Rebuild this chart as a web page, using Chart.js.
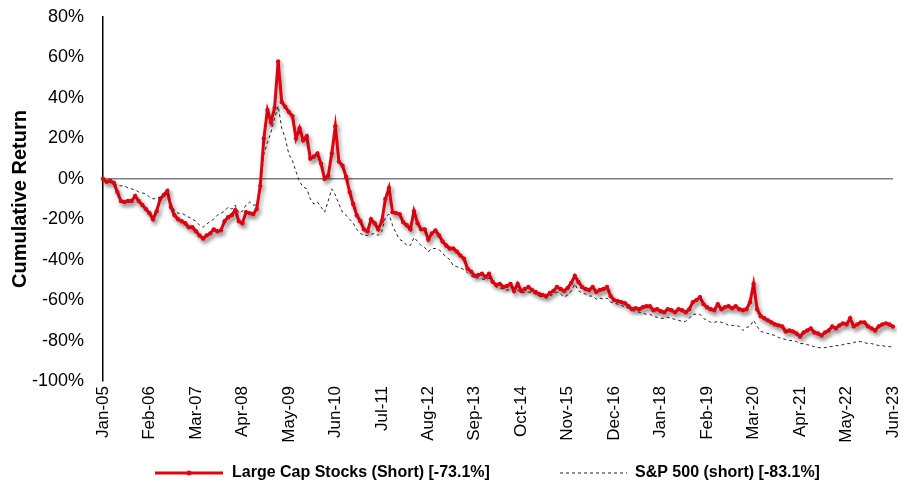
<!DOCTYPE html>
<html>
<head>
<meta charset="utf-8">
<script src="https://cdn.jsdelivr.net/npm/chart.js@4"></script>
<style>
body{ margin:0; background:#fff; }
#wrap{ width:912px; height:483px; position:relative; }
</style>
</head>
<body>
<div id="wrap"><canvas id="returnChart"></canvas></div>
<script>

const monthNames = ["Jan","Feb","Mar","Apr","May","Jun","Jul","Aug","Sep","Oct","Nov","Dec"];
const firstYear = 2005;
const monthCount = 222;

const tickLabels = [
    "Jan-05","Feb-06","Mar-07","Apr-08","May-09","Jun-10",
    "Jul-11","Aug-12","Sep-13","Oct-14","Nov-15","Dec-16",
    "Jan-18","Feb-19","Mar-20","Apr-21","May-22","Jun-23"
];

const largeCapShort = [
    0, -1.5, -1, -2, -6.5, -11, -11.5, -11, -11, -8.5,
    -11, -13, -15, -17, -20, -16, -10, -8, -6, -14,
    -18, -20, -21, -22, -24, -24, -26, -28, -29.5, -28,
    -27, -25, -26, -25.5, -21, -19, -18, -15.5, -21, -22,
    -16.5, -17, -17.5, -15, -3.5, 20, 34, 28, 35, 58,
    38, 35.5, 33, 31, 20, 25, 19, 21, 10, 11,
    12.5, 7.5, 0, 1.5, 12.5, 26, 8.5, 6.5, 1, -6.5,
    -12.5, -18, -21, -25, -26, -20, -22, -25, -21, -10,
    -4.5, -16.5, -17, -17.5, -21.5, -23, -25, -16, -22, -25,
    -25, -30, -27, -25.5, -28, -31, -33, -34.5, -34.5, -36,
    -38, -39.5, -44.5, -46, -48, -47.5, -47, -48.5, -47, -51,
    -52.5, -52, -53.5, -53, -52, -55.5, -52, -55.5, -54.5, -53.5,
    -55, -56, -57, -57.5, -58, -56.5, -55.5, -53.5, -54.5, -55.5,
    -54, -51.5, -48, -51, -53.5, -54.5, -55, -53.5, -56, -55,
    -54.5, -53.5, -58, -60, -60.5, -61, -61.5, -63, -64.5, -64,
    -64.5, -63.5, -63, -63, -65, -64.5, -65.5, -66, -64.5, -65,
    -66, -64.5, -65, -66, -64.5, -61, -60, -58.5, -62, -63.5,
    -64.5, -65, -62, -64.5, -63.5, -63, -64, -63, -64.5, -65,
    -64.5, -61, -52, -64.5, -68, -69, -70, -71, -72, -72.5,
    -73, -75.5, -75, -75.5, -76.5, -78, -76, -75, -74, -76,
    -76.5, -77.5, -76, -75, -73, -74, -72.5, -71.5, -72, -69,
    -73, -72, -71, -71, -73, -74, -75, -73, -72, -71.5,
    -72, -73.1
];

const sp500Short = [
    0, -1, -2, -2.5, -3, -3.5, -3.5, -4.5, -5, -5.5,
    -6.5, -7, -7.5, -9, -10, -9.5, -9, -7, -6, -12,
    -16, -17, -17, -18, -19, -20, -21, -23, -24, -22.5,
    -21, -20, -18, -17, -16, -14, -15, -13, -17, -16,
    -13, -11.5, -13, -13, -4, 12, 18, 23, 30, 36,
    25, 20, 12, 9, 3.5, -1.5, -4, -5, -10, -12.5,
    -11.5, -14, -16.5, -11, -5, -8, -12.5, -16.5, -18, -20,
    -22, -25, -27, -28, -28, -27.5, -27, -28, -26, -19,
    -17.5, -23, -27, -30, -31, -33, -33, -29, -31, -33,
    -34, -36, -34.5, -34.5, -35, -37, -38.5, -40, -43, -43.5,
    -44, -45, -46.5, -48, -49, -49, -49.5, -50, -49, -52,
    -53.5, -54, -54.5, -55, -55, -56, -55, -56.5, -56, -56,
    -56.5, -57, -58, -58.5, -59, -58, -57, -56, -57, -58.5,
    -57.5, -55.5, -52, -55.5, -56.5, -57, -58, -58, -59.5, -59,
    -59.5, -59, -61, -61.5, -62, -62.5, -63.5, -64, -65, -65.5,
    -66, -66.5, -67, -67, -68, -68.5, -69, -69, -68.5, -69,
    -69.5, -70, -70.5, -70.5, -69, -67, -67, -67, -69, -70,
    -71, -71, -70.5, -71, -71.5, -72.5, -72.5, -72.5, -73, -75,
    -73.5, -73, -70, -73, -75.5, -76, -76.5, -77, -77.5, -78.5,
    -79, -79.5, -80, -80, -80.5, -81.5, -81.5, -82, -82.5, -83,
    -83.5, -83.5, -83.5, -83, -83, -82.5, -82.5, -82, -81.5, -81.5,
    -81, -80.5, -80.5, -81, -81.5, -81.5, -82, -82.5, -82.5, -83,
    -83, -83.1
];

const seriesNames = [
    "Large Cap Stocks (Short) [-73.1%]",
    "S&P 500 (short) [-83.1%]"
];

let months = [];
for(let i = 0; i < monthCount; i++){
    let yy = (firstYear + Math.floor(i / 12)) % 100;
    months.push(monthNames[i % 12] + "-" + (yy < 10 ? "0" + yy : "" + yy));
}

const shadowPlugin = {
    id: "shadowPlugin",
    beforeDatasetDraw(chart, args){
        let ctx = chart.ctx;
        ctx.save();
        if(args.index === 0){
            ctx.shadowColor = "rgba(0,0,0,0.35)";
            ctx.shadowBlur = 4;
            ctx.shadowOffsetX = 2;
            ctx.shadowOffsetY = 3;
        }
    },
    afterDatasetDraw(chart){
        chart.ctx.restore();
    }
};

const legendPlugin = {
    id: "legendPlugin",
    afterDraw(chart){
        let ctx = chart.ctx;
        let ds = chart.data.datasets;
        let y = 473;
        let items = [
            { lineFrom: 155, lineTo: 223, textX: 232 },
            { lineFrom: 560, lineTo: 627, textX: 635 }
        ];

        ctx.save();
        items.forEach((item, i) => {
            ctx.beginPath();
            ctx.strokeStyle = ds[i].borderColor;
            ctx.lineWidth = ds[i].borderWidth;
            ctx.setLineDash(ds[i].borderDash || []);
            ctx.moveTo(item.lineFrom, y);
            ctx.lineTo(item.lineTo, y);
            ctx.stroke();
            ctx.setLineDash([]);

            if(ds[i].pointRadius > 0){
                ctx.beginPath();
                ctx.fillStyle = ds[i].pointBackgroundColor;
                ctx.arc((item.lineFrom + item.lineTo) / 2, y, 2.5, 0, Math.PI * 2);
                ctx.fill();
            }

            ctx.fillStyle = "#000";
            ctx.font = "bold 16px 'Liberation Sans', Arial, sans-serif";
            ctx.textBaseline = "middle";
            ctx.textAlign = "left";
            ctx.fillText(ds[i].label, item.textX, y);
        });
        ctx.restore();
    }
};

const ctx = document.getElementById("returnChart");

new Chart(ctx, {
    type: "line",
    data: {
        labels: months,
        datasets: [
            {
                label: seriesNames[0],
                data: largeCapShort,
                borderColor: "#e3000f",
                borderWidth: 3,
                pointRadius: 2.2,
                pointBackgroundColor: "#e3000f",
                pointBorderWidth: 0,
                tension: 0
            },
            {
                label: seriesNames[1],
                data: sp500Short,
                borderColor: "#222222",
                borderWidth: 1,
                borderDash: [3, 3],
                pointRadius: 0,
                tension: 0
            }
        ]
    },
    options: {
        responsive: true,
        maintainAspectRatio: false,
        animation: false,
        layout: {
            autoPadding: false,
            padding: { top: 17, right: 19, bottom: 30, left: 0 }
        },
        plugins: {
            legend: { display: false },
            tooltip: { enabled: false }
        },
        scales: {
            x: {
                offset: false,
                grid: { display: false },
                border: { display: false },
                afterFit: function(scale){
                    scale.height = 72;
                },
                ticks: {
                    autoSkip: false,
                    maxRotation: 90,
                    minRotation: 90,
                    padding: -3,
                    color: "#000",
                    font: { family: "'Liberation Sans', Arial, sans-serif", size: 17 },
                    callback: function(value, index){
                        let lab = months[index];
                        return tickLabels.includes(lab) ? lab : null;
                    }
                }
            },
            y: {
                min: -100,
                max: 80,
                afterFit: function(scale){
                    scale.width = 103;
                    scale.paddingTop = 0;
                    scale.paddingBottom = 0;
                },
                border: { display: true, color: "#000", width: 1.5 },
                grid: {
                    drawTicks: false,
                    lineWidth: 1.5,
                    color: function(c){
                        return c.tick && c.tick.value === 0 ? "#808080" : "rgba(0,0,0,0)";
                    }
                },
                ticks: {
                    stepSize: 20,
                    padding: 19,
                    color: "#000",
                    font: { family: "'Liberation Sans', Arial, sans-serif", size: 18 },
                    callback: function(v){
                        return v + "%";
                    }
                },
                title: {
                    display: true,
                    text: "Cumulative Return",
                    color: "#000",
                    padding: { top: 8, bottom: 0 },
                    font: { family: "'Liberation Sans', Arial, sans-serif", size: 20, weight: "bold" }
                }
            }
        }
    },
    plugins: [shadowPlugin, legendPlugin]
});

</script>
</body>
</html>
